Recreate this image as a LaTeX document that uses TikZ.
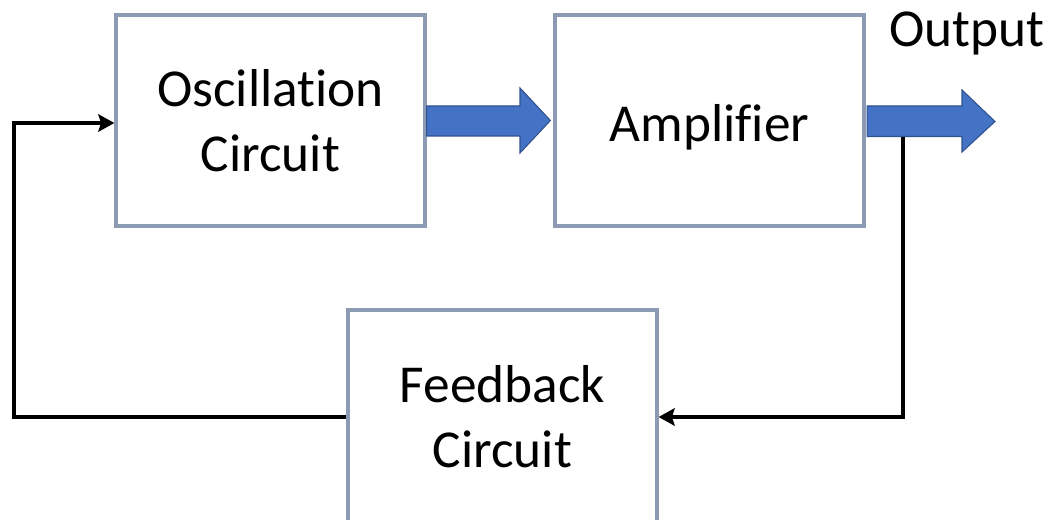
\documentclass[tikz,border=0pt]{standalone}
\usepackage{fontspec}
\setmainfont{Carlito}[Ligatures={NoCommon}]
\usetikzlibrary{arrows.meta,calc}
\definecolor{boxline}{HTML}{8C9BB3}
\definecolor{arrowfill}{HTML}{4472C4}
\definecolor{arrowline}{HTML}{2F528F}
\tikzset{
  block/.style={draw=boxline, line width=2.4pt, fill=white, minimum width=231.75pt, inner sep=0pt,
    align=center, font=\fontsize{40}{48.5}\selectfont},
  fatarrow/.style={fill=arrowfill, draw=arrowline, line width=0.8pt, line join=miter},
  wire/.style={draw=black, line width=3.3pt, line join=miter, -{Stealth[length=12pt,width=13pt,inset=2pt]}},
  label/.style={font=\fontsize{40}{48.5}\selectfont, inner sep=0pt}
}
\begin{document}
\begin{tikzpicture}[x=0.75pt,y=-0.75pt]
\useasboundingbox (0,0) rectangle (1053,520);
\clip (0,0) rectangle (1053,520);
\node[block, minimum height=158.25pt] (osc) at (270.5,120.5) {Oscillation\\Circuit};
\node[block, minimum height=158.25pt, text height=32pt, text depth=0pt] (amp) at (709.5,120.5) {Amplifier};
\node[block, minimum height=160.5pt] (fb) at (502.5,417) {Feedback\\Circuit};
\node[label] (out) at (967,33) {Output};
% fat arrow osc -> amp
\draw[fatarrow] ($(osc.east)+(0,-14.5)$) -- (520,106) -- (520,88) -- ($(amp.west)+(-3,0)$) -- (520,153) -- (520,136) -- ($(osc.east)+(0,15.5)$) -- cycle;
% fat arrow amp -> output
\draw[fatarrow] ($(amp.east)+(1.5,-14.5)$) -- (962,106) -- (962,90) -- (995,121.5) -- (962,152) -- (962,136.5) -- ($(amp.east)+(1.5,16)$) -- cycle;
\coordinate (tap) at (903,137);
\coordinate (leftc) at (14,417);
\draw[wire] (fb.west) -- (leftc) |- ($(osc.west)+(0,2.5)$);
\draw[wire] (tap) |- (fb.east);
\end{tikzpicture}
\end{document}
